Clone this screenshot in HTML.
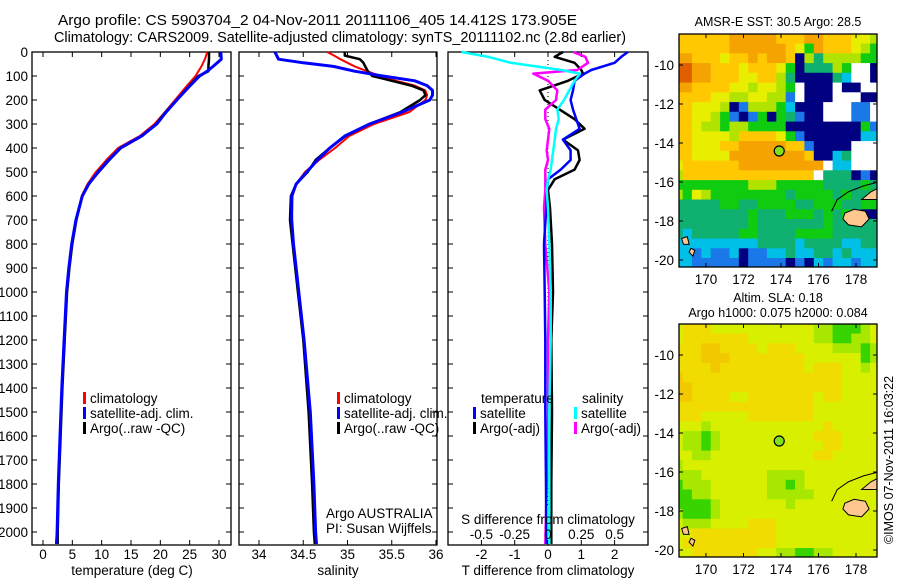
<!DOCTYPE html>
<html><head><meta charset="utf-8"><style>
html,body{margin:0;padding:0;background:#fff;}
svg{display:block;font-family:"Liberation Sans",sans-serif;}
</style></head><body>
<svg id="fig" width="900" height="580" viewBox="0 0 900 580">
<text x="58" y="25" font-size="14.5" textLength="519" lengthAdjust="spacingAndGlyphs">Argo profile: CS 5903704_2 04-Nov-2011 20111106_405 14.412S 173.905E</text>
<text x="54" y="42" font-size="14.5" textLength="572" lengthAdjust="spacingAndGlyphs">Climatology: CARS2009. Satellite-adjusted climatology: synTS_20111102.nc (2.8d earlier)</text>
<text x="778" y="26" font-size="12.5" text-anchor="middle">AMSR-E SST: 30.5 Argo: 28.5</text>
<text x="778" y="302" font-size="12.5" text-anchor="middle">Altim. SLA: 0.18</text>
<text x="778" y="317" font-size="12.5" text-anchor="middle">Argo h1000: 0.075 h2000: 0.084</text>
<text transform="translate(893,460) rotate(-90)" font-size="12.5" text-anchor="middle">©IMOS 07-Nov-2011 16:03:22</text>
<g id="layer"></g>
</svg>
<script>
// ---------- Profile data ----------
const tDepth = [0,30,60,80,100,150,200,250,300,350,400,450,500,550,600,700,800,900,1000,1200,1400,1600,1800,2000,2050];
const tClim  = [28.0,27.6,27.0,26.5,26.0,24.2,22.5,20.8,19.0,16.5,12.8,10.8,9.0,7.6,6.6,5.6,4.9,4.4,4.0,3.6,3.2,2.9,2.6,2.4,2.2];
const tSat   = [30.3,30.4,29.0,28.0,26.7,24.7,22.8,21.0,19.4,16.8,13.2,11.2,9.4,7.8,6.7,5.6,4.9,4.4,4.0,3.6,3.2,2.9,2.6,2.4,2.3];
const tArgo  = [28.3,28.3,28.2,28.2,26.5,24.6,22.8,20.9,19.3,16.9,13.3,11.3,9.5,7.8,6.7,5.7,5.0,4.5,4.1,3.7,3.3,3.0,2.7,2.5,2.5];

const sDepth = [0,15,30,45,60,80,100,120,140,160,180,200,250,300,350,400,450,500,550,600,700,800,1000,1200,1500,1800,2000,2050];
const sClim  = [34.77,34.85,34.92,35.0,35.08,35.22,35.37,35.55,35.76,35.88,35.9,35.88,35.7,35.3,35.02,34.86,34.68,34.52,34.42,34.38,34.37,34.39,34.44,34.5,34.57,34.61,34.64,34.65];
const sSat   = [34.18,34.2,34.22,34.5,34.84,35.08,35.4,35.76,35.9,35.96,35.96,35.93,35.62,35.25,34.97,34.8,34.66,34.54,34.42,34.37,34.37,34.39,34.45,34.51,34.58,34.62,34.64,34.65];
const sArgo  = [34.97,34.97,35.14,35.18,35.2,35.23,35.28,35.5,35.72,35.86,35.88,35.82,35.6,35.25,34.98,34.8,34.64,34.55,34.42,34.36,34.35,34.38,34.44,34.5,34.56,34.6,34.62,34.63];

const dDepth = [0,20,45,75,90,120,160,200,240,280,320,365,410,450,490,530,575,650,800,1000,1200,1500,1800,2050];
const dTSat  = [2.4,2.2,2.0,1.3,1.1,0.8,0.75,0.68,0.75,0.85,0.95,0.45,0.68,0.68,0.38,0.0,-0.03,-0.05,-0.12,-0.1,-0.08,-0.08,-0.06,-0.05];
const dTArgo = [0.45,0.2,0.8,1.0,1.05,0.6,-0.25,-0.1,0.35,0.8,1.1,0.45,0.9,0.95,0.8,0.2,0.0,0.06,0.12,0.15,0.1,0.12,0.1,0.1];
const dSSat  = [-0.65,-0.45,-0.28,0.1,0.24,0.2,0.16,0.12,0.07,0.08,0.06,0.05,0.04,0.03,0.02,0.0,-0.01,0.0,0.01,0.02,0.02,0.01,0.01,0.01];
const dSArgo = [0.19,0.28,0.3,0.22,-0.11,0.0,0.07,0.06,-0.02,-0.02,0.01,0.0,-0.01,0.0,-0.02,-0.02,-0.02,-0.03,-0.02,0.01,0.0,0.0,-0.01,-0.02];

const depthTicks = [0,100,200,300,400,500,600,700,800,900,1000,1100,1200,1300,1400,1500,1600,1700,1800,1900,2000];
const tempTicks = [0,5,10,15,20,25,30];
const salTicks = [34,34.5,35,35.5,36];
const salTickLabels = ["34","34.5","35","35.5","36"];
const tdiffTicks = [-2,-1,0,1,2];
const sdiffTicks = [-0.5,-0.25,0,0.25,0.5];
const sdiffTickLabels = ["-0.5","-0.25","0","0.25","0.5"];
const lonTicks = [170,172,174,176,178];
const latTicks = [-10,-12,-14,-16,-18,-20];

// ---------- Map data (0.5 deg cells, top row lat -8.4, col0 lon 168.5) ----------
const sstRows = [
"7777778888877788777665","7777778888887648777654","8877767787887053555544","9988777677764033354--0",
"9988777667753000032--0","8877776656654-000-00--","7777665566551-000---00","7766650155542000---11-",
"7766541014043100---11-","7765545544440000000041","7766665777764100000022","7766677888887710000---",
"7766668888888870023---","6777777888888888-22---","577777777777777-333010","4444444455544444333343",
"5465444444443444434334","3333344334444334443344","3333333343334443434300","3333333343333333433333",
"3233333443333444433333","2222222223333233332233","2212112011223223323222","2211111011110102122122",
"2221111111101011202222"];
const slaRows = [
"2333222222222221100012","2333333322222221100112","3334433332333222211101","3334443333333322222201",
"3333433333333323332212","4333333333333333332222","4433333333333333332222","4433332233333332332222",
"3333333333333332222222","3332222233333332222222","2221222222222222322222","2110122222222223332222",
"2110122222222222332222","2211222222222223322222","1222222222222222222222","1112222222111122222222",
"0111222222110122222222","0011222222111112222222","0000122222221222222222","1000122222222222222222",
"2111222233322222222222","2233333333322222222222","2333333333322222222222","2233333332211001122222"];
const argoLon = 173.905, argoLat = -14.412;

const NS="http://www.w3.org/2000/svg";
const layer=document.getElementById('layer');
function mk(tag,attrs,parent){const e=document.createElementNS(NS,tag);for(const k in attrs)e.setAttribute(k,attrs[k]);(parent||layer).appendChild(e);return e;}

const Y0=52, Y1=532; const yD=d=>Y0+(d/2000)*(Y1-Y0); const PB=545;

function panel(name,x0,x1,xs,xticks,xlabels,showDepth){
  const g=mk('g',{});
  
  
  const r=mk('rect',{x:x0,y:Y0,width:x1-x0,height:PB-Y0,fill:'none',stroke:'#000','stroke-width':1.3},g);
  
  
  depthTicks.forEach(d=>{
    const y=yD(d);
    mk('line',{x1:x0,x2:x0+5,y1:y,y2:y,stroke:'#000'},g);
    mk('line',{x1:x1-5,x2:x1,y1:y,y2:y,stroke:'#000'},g);
    if(showDepth){const t=mk('text',{x:x0-4,y:y+5,'font-size':13.5,'text-anchor':'end'},g);t.textContent=d;
      
      }
  });
  xticks.forEach((v,i)=>{
    const x=xs(v);
    mk('line',{x1:x,x2:x,y1:Y0,y2:Y0+5,stroke:'#000'},g);
    mk('line',{x1:x,x2:x,y1:PB-5,y2:PB,stroke:'#000'},g);
    const t=mk('text',{x:x,y:559,'font-size':13.5,'text-anchor':'middle'},g);t.textContent=xlabels[i];
    
    
  });
  return g;
}
function line(g,xs,depths,vals,color,w,name){
  const pts=depths.map((d,i)=>xs(vals[i]).toFixed(1)+','+yD(d).toFixed(1)).join(' ');
  const p=mk('polyline',{points:pts,fill:'none',stroke:color,'stroke-width':w,'stroke-linejoin':'round'},g);
  
  
}
function label(g,x,y,txt,name,size,anchor){const t=mk('text',{x:x,y:y,'font-size':size||13.5,'text-anchor':anchor||'start'},g);t.textContent=txt;
  
  return t;}
function legend(g,x,y,color,txt,name){
  const b=mk('rect',{x:x,y:y-11,width:3,height:12,fill:color},g);
  
  
  label(g,x+7,y,txt,name);
}

const xT=v=>43+v*(219-43)/30;
const g1=panel('temperature-panel',32,231,xT,tempTicks,tempTicks.map(String),true);
line(g1,xT,tDepth,tClim,'#f00',2,'temp-climatology-line');
line(g1,xT,tDepth,tArgo,'#000',2.5,'temp-argo-line');
line(g1,xT,tDepth,tSat,'#00f',3,'temp-satellite-line');
legend(g1,83,403,'#f00','climatology','legend-climatology');
legend(g1,83,418,'#00f','satellite-adj. clim.','legend-satellite');
legend(g1,83,433,'#000','Argo(..raw -QC)','legend-argo');
label(g1,132,575,'temperature (deg C)','temperature-axis-title',13.5,'middle');

const xS=v=>259+(v-34)*(436-259)/2;
const g2=panel('salinity-panel',239,437,xS,salTicks,salTickLabels,false);
line(g2,xS,sDepth,sClim,'#f00',2,'sal-climatology-line');
line(g2,xS,sDepth,sArgo,'#000',2.5,'sal-argo-line');
line(g2,xS,sDepth,sSat,'#00f',3,'sal-satellite-line');
legend(g2,337,403,'#f00','climatology','legend-sal-climatology');
legend(g2,337,418,'#00f','satellite-adj. clim.','legend-sal-satellite');
legend(g2,337,433,'#000','Argo(..raw -QC)','legend-sal-argo');
label(g2,326,518,'Argo AUSTRALIA','argo-australia-label');
label(g2,326,533,'PI: Susan Wijffels','pi-label');
label(g2,338,575,'salinity','salinity-axis-title',13.5,'middle');

const x0d=548, xDT=v=>x0d+v*33.3, xDS=v=>x0d+v*133.2;
const g3=panel('difference-panel',448,648,xDT,tdiffTicks,tdiffTicks.map(String),false);
const zl=mk('line',{x1:x0d,x2:x0d,y1:Y0,y2:PB-40,stroke:'#000','stroke-dasharray':'1,3'},g3);


line(g3,xDT,dDepth,dTArgo,'#000',2.5,'tdiff-argo-line');
line(g3,xDS,dDepth,dSArgo,'#f0f',2.5,'sdiff-argo-line');
line(g3,xDT,dDepth,dTSat,'#00f',2.5,'tdiff-satellite-line');
line(g3,xDS,dDepth,dSSat,'#0ff',2.5,'sdiff-satellite-line');
label(g3,481,403,'temperature','legend-temperature-heading');
legend(g3,473,418,'#00f','satellite','legend-tdiff-satellite');
legend(g3,473,433,'#000','Argo(-adj)','legend-tdiff-argo');
label(g3,582,403,'salinity','legend-salinity-heading');
legend(g3,574,418,'#0ff','satellite','legend-sdiff-satellite');
legend(g3,574,433,'#f0f','Argo(-adj)','legend-sdiff-argo');
label(g3,548,524,'S difference from climatology','sdiff-axis-title',13.5,'middle');
sdiffTicks.forEach((v,i)=>label(g3,xDS(v),539,sdiffTickLabels[i],'sdiff-tick-label',13.5,'middle'));
label(g3,548,575,'T difference from climatology','tdiff-axis-title',13.5,'middle');

const sstColors={'9':'#e06000','8':'#f5a300','7':'#ffc800','6':'#e8ee00','5':'#b0e400','4':'#10cc10','3':'#10b070','2':'#00c0e8','1':'#1a78e8','0':'#000080','-':'#ffffff'};
const slaColors={'0':'#38d400','1':'#a8e800','2':'#d8f000','3':'#f0dc00','4':'#f2c800'};
function map(name,top,rows,colors){
  const L=679,R=877,B=top+233;
  const lx=v=>706+(v-170)*18.75, ly=v=>top+31+(-10-v)*19.5;
  const g=mk('g',{});
  
  
  const cp=mk('clipPath',{id:name+'-clip'},g); mk('rect',{x:L,y:top,width:R-L,height:B-top},cp);
  const cg=mk('g',{'clip-path':'url(#'+name+'-clip)'},g);
  rows.forEach((row,r)=>{
    for(let c=0;c<row.length;c++){
      const lon=168.5+c*0.5, lat=-8.4-r*0.5;
      const x=lx(lon-0.25), y=ly(lat);
      const cell=mk('rect',{x:x.toFixed(1),y:y.toFixed(1),width:(0.5*18.75+0.6).toFixed(1),height:(0.5*19.5+0.6).toFixed(1),fill:colors[row[c]]||'#fff'},cg);
      
      
    }
  });
  const land=[[177.4,-17.6,177.9,-17.4,178.5,-17.5,178.7,-17.9,178.3,-18.3,177.6,-18.2,177.3,-17.9],
              [178.3,-16.9,178.8,-16.5,179.2,-16.3,179.2,-16.9,178.7,-16.9],
              [168.7,-18.9,169.0,-18.8,169.1,-19.2,168.8,-19.2],[169.2,-19.4,169.4,-19.5,169.3,-19.8,169.1,-19.6]];
  land.forEach(p=>{let s='';for(let i=0;i<p.length;i+=2)s+=lx(p[i]).toFixed(1)+','+ly(p[i+1]).toFixed(1)+' ';
    const pg=mk('polygon',{points:s,fill:'#fcc890',stroke:'#000','stroke-width':1},cg);
    
    });
  const reef=mk('polyline',{points:[[176.7,-17.5],[177.0,-16.9],[177.6,-16.5],[178.4,-16.2],[179.2,-16.0]].map(p=>lx(p[0])+','+ly(p[1])).join(' '),fill:'none',stroke:'#000','stroke-width':1},cg);
  
  
  const m=mk('circle',{cx:lx(argoLon),cy:ly(argoLat),r:5,fill:'#80e020',stroke:'#000','stroke-width':1.2},g);
  
  
  const fr=mk('rect',{x:L,y:top,width:R-L,height:B-top,fill:'none',stroke:'#000','stroke-width':1.3},g);
  
  
  lonTicks.forEach(v=>{const x=lx(v);mk('line',{x1:x,x2:x,y1:top,y2:top+4,stroke:'#000'},g);mk('line',{x1:x,x2:x,y1:B-4,y2:B,stroke:'#000'},g);
    label(g,x,B+17,String(v),'lon-tick-label',13.5,'middle');});
  latTicks.forEach(v=>{const y=ly(v);mk('line',{x1:L,x2:L+4,y1:y,y2:y,stroke:'#000'},g);mk('line',{x1:R-4,x2:R,y1:y,y2:y,stroke:'#000'},g);
    label(g,L-5,y+5,String(v),'lat-tick-label',13.5,'end');});
}
map('sst-map',34,sstRows,sstColors);
map('sla-map',324,slaRows,slaColors);
</script>
</body></html>
